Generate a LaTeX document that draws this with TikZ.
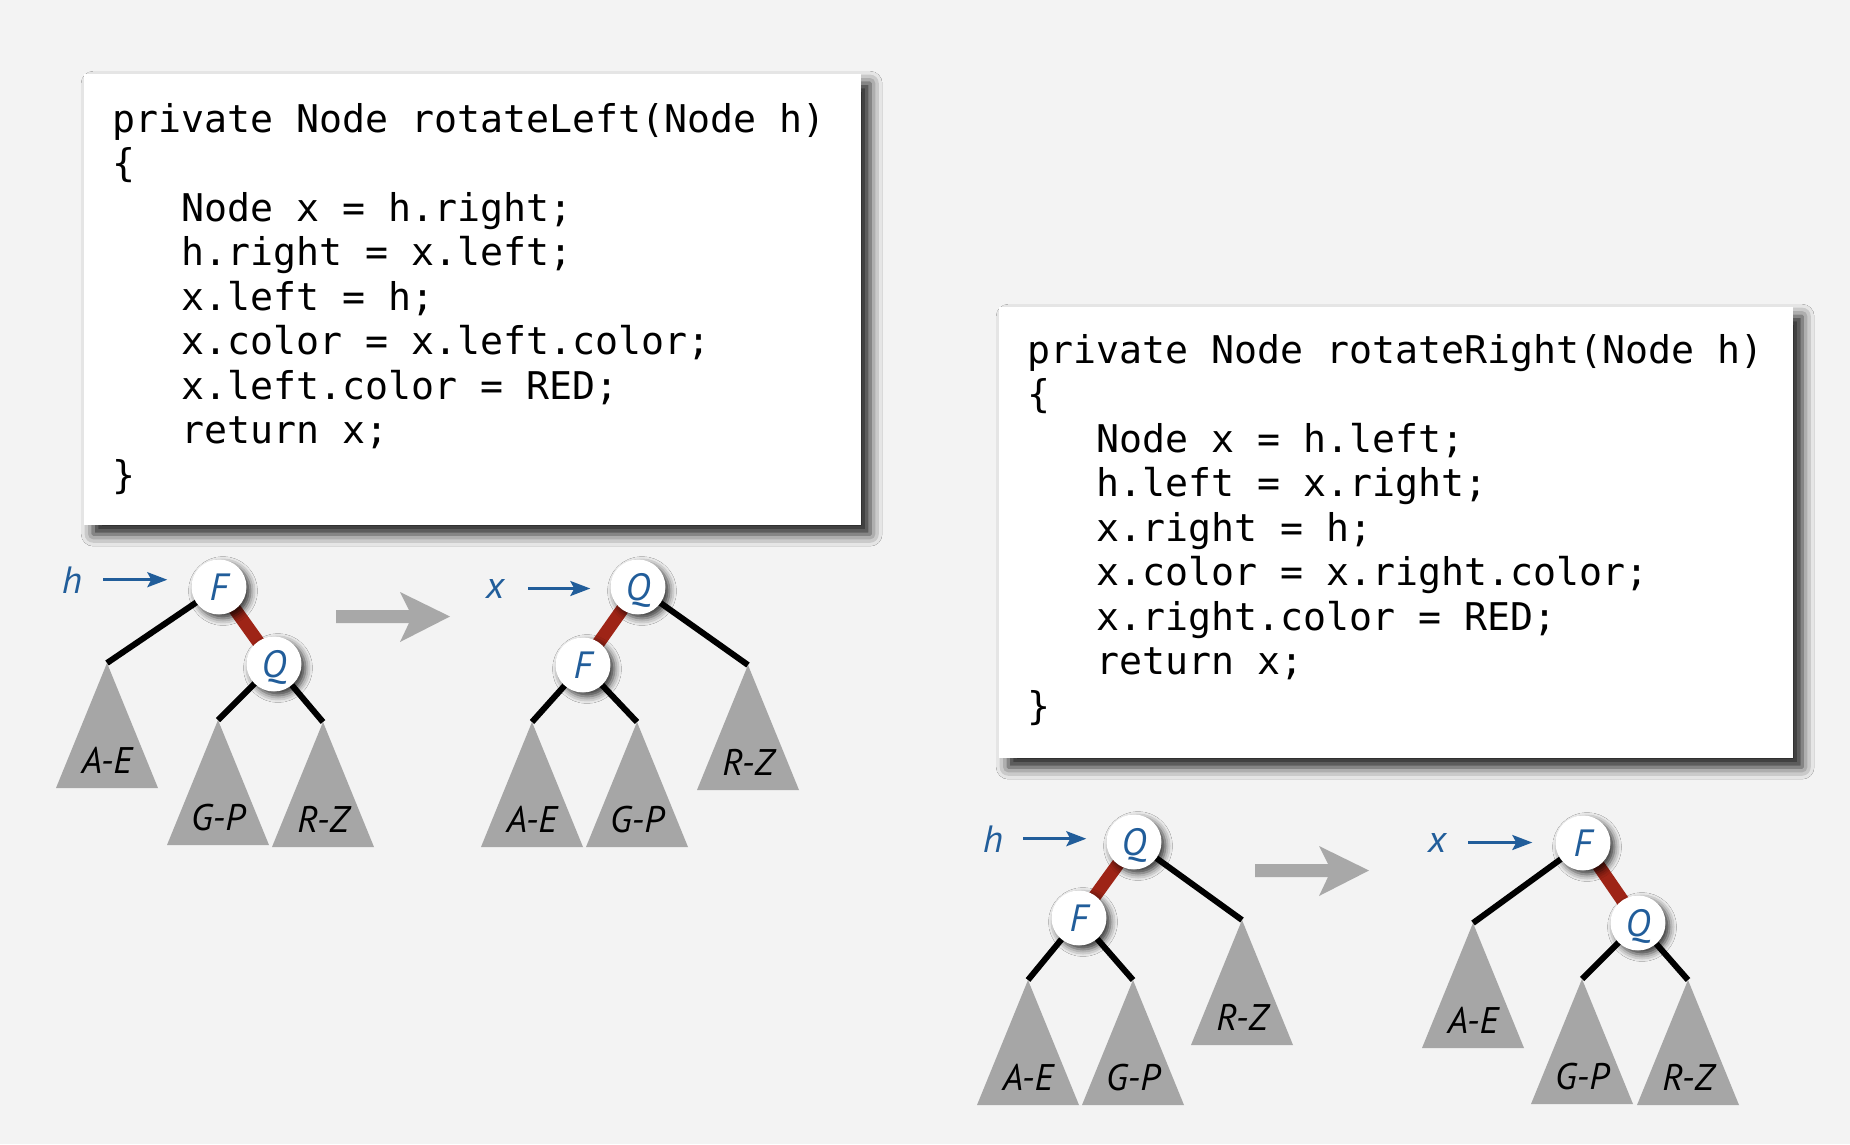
\documentclass[tikz,border=0pt]{standalone}
\usepackage{fontspec}
\setmainfont{PT Sans}
\newfontfamily\codefont{DejaVu Sans Mono}
\usetikzlibrary{calc,shadows.blur,arrows.meta}
\definecolor{bg}{RGB}{243,243,243}
\definecolor{navy}{RGB}{33,93,154}
\definecolor{redlink}{RGB}{158,36,22}
\definecolor{trigray}{RGB}{166,166,166}
\definecolor{arrgray}{RGB}{168,168,168}
\tikzset{
  codebox/.style={fill=white, draw=none, inner sep=0pt, anchor=north west,
    blur shadow={shadow xshift=9pt, shadow yshift=-9pt, shadow blur radius=12pt, shadow opacity=90}},
  codetext/.style={font=\codefont\fontsize{38.2}{44.5}\selectfont, align=left, inner sep=0pt, text=black, anchor=base west},
  rbnode/.style={circle, fill=white, minimum size=55pt, inner sep=0pt, text=navy,
    font=\fontsize{38}{38}\selectfont\itshape, text height=27pt, text depth=0pt,
    blur shadow={shadow xshift=4pt, shadow yshift=-4pt, shadow blur radius=7pt, shadow opacity=80}},
  ptrlabel/.style={text=navy, font=\fontsize{38}{38}\selectfont\itshape, inner sep=0pt, anchor=base},
  sublabel/.style={text=black, font=\fontsize{37}{37}\selectfont\itshape, inner sep=0pt, anchor=base},
  ptr/.style={navy, line width=2.8pt, -{Stealth[length=20pt,width=15pt,inset=4pt]}},
  blacklink/.style={black, line width=6pt},
  redlinkstyle/.style={redlink, line width=13pt},
  tri/.style={fill=trigray},
  bigarrow/.style={fill=arrgray}
}
\newcommand\subtree[3]{%
  \coordinate (#1) at (#2);
  \fill[tri] (#1) -- ++(-51,125) -- ++(102,0) -- cycle;
  \node[sublabel] (#1l) at ($(#1)+(0,110)$) {#3};}
\begin{document}
\begin{tikzpicture}[x=1pt,y=-1pt]
\fill[bg] (0,0) rectangle (1850,1144);
\useasboundingbox (0,0) rectangle (1850,1144);

% code boxes (text anchored at the baseline of its last line)
\node[codebox, minimum width=777pt, minimum height=451pt] (boxL) at (84,74) {};
\node[codetext] (codeL) at (112,488) {private Node rotateLeft(Node h)\\
\{\\
\phantom{xxx}Node x = h.right;\\
\phantom{xxx}h.right = x.left;\\
\phantom{xxx}x.left = h;\\
\phantom{xxx}x.color = x.left.color;\\
\phantom{xxx}x.left.color = RED;\\
\phantom{xxx}return x;\\
\}};

\node[codebox, minimum width=794pt, minimum height=451pt] (boxR) at (999,307) {};
\node[codetext] (codeR) at (1027,719) {private Node rotateRight(Node h)\\
\{\\
\phantom{xxx}Node x = h.left;\\
\phantom{xxx}h.left = x.right;\\
\phantom{xxx}x.right = h;\\
\phantom{xxx}x.color = x.right.color;\\
\phantom{xxx}x.right.color = RED;\\
\phantom{xxx}return x;\\
\}};

% big arrows
\fill[bigarrow] (336,610) -- (409,610) -- (400,592) -- (450,616.5) -- (400,642) -- (409,623) -- (336,623) -- cycle;
\begin{scope}[shift={(919,254)}]
\fill[bigarrow] (336,610) -- (409,610) -- (400,592) -- (450,616.5) -- (400,642) -- (409,623) -- (336,623) -- cycle;
\end{scope}

% ---------- tree 1 ----------
\subtree{A1}{107,663}{A-E}
\subtree{G1}{218,720}{G-P}
\subtree{R1}{323,722}{R-Z}
\coordinate (F1c) at (219,587);
\coordinate (Q1c) at (274,664);
\draw[blacklink] (F1c) -- (A1);
\draw[blacklink] (Q1c) -- (G1);
\draw[blacklink] (Q1c) -- (R1);
\draw[redlinkstyle] (F1c) -- (Q1c);
\node[rbnode] (F1) at (F1c) {F};
\node[rbnode] (Q1) at (Q1c) {Q};
\node[ptrlabel] (h1) at (72,593) {h};
\draw[ptr] ([xshift=21pt]h1.east) -- ([xshift=-24pt]h1.east -| F1.west);

% ---------- tree 2 ----------
\subtree{A2}{532,722}{A-E}
\subtree{G2}{637,722}{G-P}
\subtree{R2}{748,665}{R-Z}
\coordinate (Q2c) at (638,587);
\coordinate (F2c) at (583,665);
\draw[blacklink] (Q2c) -- (R2);
\draw[blacklink] (F2c) -- (A2);
\draw[blacklink] (F2c) -- (G2);
\draw[redlinkstyle] (Q2c) -- (F2c);
\node[rbnode] (Q2) at (Q2c) {Q};
\node[rbnode] (F2) at (F2c) {F};
\node[ptrlabel] (x2) at (495,598) {x};
\draw[ptr] ([xshift=24pt]x2.east) -- ([xshift=-20pt]x2.east -| Q2.west);

% ---------- tree 3 ----------
\subtree{A3}{1028,980}{A-E}
\subtree{G3}{1133,980}{G-P}
\subtree{R3}{1242,920}{R-Z}
\coordinate (Q3c) at (1134,842);
\coordinate (F3c) at (1079,918);
\draw[blacklink] (Q3c) -- (R3);
\draw[blacklink] (F3c) -- (A3);
\draw[blacklink] (F3c) -- (G3);
\draw[redlinkstyle] (Q3c) -- (F3c);
\node[rbnode] (Q3) at (Q3c) {Q};
\node[rbnode] (F3) at (F3c) {F};
\node[ptrlabel] (h3) at (993,852) {h};
\draw[ptr] ([xshift=20pt]h3.east) -- ([xshift=-20pt]h3.east -| Q3.west);

% ---------- tree 4 ----------
\subtree{A4}{1473,923}{A-E}
\subtree{G4}{1582,979}{G-P}
\subtree{R4}{1688,980}{R-Z}
\coordinate (F4c) at (1583,843);
\coordinate (Q4c) at (1638,923);
\draw[blacklink] (F4c) -- (A4);
\draw[blacklink] (Q4c) -- (G4);
\draw[blacklink] (Q4c) -- (R4);
\draw[redlinkstyle] (F4c) -- (Q4c);
\node[rbnode] (F4) at (F4c) {F};
\node[rbnode] (Q4) at (Q4c) {Q};
\node[ptrlabel] (x4) at (1437,852) {x};
\draw[ptr] ([xshift=22pt]x4.east) -- ([xshift=-23pt]x4.east -| F4.west);
\end{tikzpicture}
\end{document}
